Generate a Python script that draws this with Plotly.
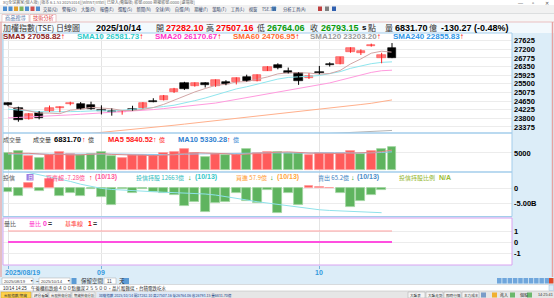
import plotly.graph_objects as go

W, H = 554, 298

# ---------------- data ----------------
dates = ["08/19", "08/20", "08/21", "08/22", "08/25", "08/26", "08/27", "08/28", "08/29",
         "09/01", "09/02", "09/03", "09/04", "09/05", "09/08", "09/09", "09/10", "09/11", "09/12",
         "09/15", "09/16", "09/17", "09/18", "09/19", "09/22", "09/23", "09/24", "09/25", "09/26",
         "09/30", "10/01", "10/02", "10/03", "10/07", "10/08", "10/09", "10/13", "10/14"]
opens = [24540, 24324, 23767, 24078, 24160, 24290, 24490, 24490, 24460, 24180, 24150, 24100, 24275,
         24295, 24660, 24700, 25080, 25555, 25410, 25525, 25390, 25575, 25575, 25835, 25655, 26146,
         26440, 26130, 26020, 25770, 26100, 26490, 26475, 27080, 27033, 27377, 26790, 27282.10]
highs = [24590, 24373, 24062, 24160, 24430, 24390, 24620, 24600, 24620, 24440, 24290, 24170, 24420,
         24600, 24790, 24950, 25300, 25600, 25570, 25580, 25720, 25680, 25820, 25950, 25965, 26370,
         26510, 26300, 26070, 26020, 26380, 26560, 26830, 27300, 27200, 27480, 27030, 27507.16]
lows = [24400, 23634, 23740, 23750, 24110, 24100, 24440, 24240, 24220, 23990, 23930, 23980, 24175,
        24280, 24590, 24680, 25050, 25200, 25360, 25320, 25350, 25430, 25470, 25610, 25620, 26130,
        26215, 26010, 25450, 25740, 25970, 26350, 26460, 27030, 26920, 27330, 26510, 26764.06]
closes = [24440, 23718, 24013, 23802, 24324, 24340, 24570, 24260, 24250, 24150, 24115, 24160, 24210,
          24570, 24600, 24900, 25230, 25245, 25525, 25440, 25673, 25505, 25800, 25625, 25950, 26310,
          26265, 26050, 25655, 25885, 26020, 26425, 26806, 27250, 27130, 27427, 26923.42, 26793.15]

sma5 = [24380, 24280, 24160, 24060, 24059, 24030, 24201, 24250, 24342, 24307, 24271, 24189, 24179,
        24241, 24331, 24488, 24702, 24909, 25100, 25268, 25423, 25478, 25589, 25609, 25711, 25838,
        25990, 26040, 26046, 26033, 25975, 26007, 26158, 26477, 26726, 27008, 27107, 27058.82]
sma10 = [24250, 24200, 24170, 24130, 24120, 24110, 24130, 24140, 24160, 24183, 24151, 24195, 24215,
         24291, 24319, 24380, 24446, 24544, 24671, 24800, 24955, 25090, 25249, 25354, 25489, 25630,
         25734, 25814, 25827, 25872, 25907, 25999, 26099, 26262, 26380, 26491, 26557, 26581.73]
sma20 = [23820, 23840, 23860, 23880, 23910, 23940, 23970, 24000, 24030, 24060, 24090, 24120, 24150,
         24190, 24230, 24280, 24330, 24380, 24430, 24491, 24553, 24642, 24732, 24823, 24904, 25005,
         25090, 25179, 25249, 25336, 25431, 25544, 25674, 25808, 25934, 26061, 26145, 26170.67]
sma60 = [22800, 22830, 22860, 22890, 22920, 22955, 22990, 23030, 23070, 23110, 23155, 23200, 23250,
         23300, 23350, 23405, 23460, 23515, 23570, 23625, 23680, 23735, 23790, 23845, 23900, 23955,
         24010, 24065, 24120, 24180, 24240, 24300, 24360, 24420, 24480, 24540, 24620, 24706.95]
sma120 = [22290, 22315, 22340, 22365, 22390, 22415, 22440, 22465, 22490, 22515, 22540, 22565, 22590,
          22615, 22640, 22665, 22690, 22715, 22740, 22765, 22790, 22815, 22840, 22865, 22890, 22915,
          22940, 22965, 22990, 23015, 23040, 23065, 23090, 23115, 23140, 23165, 23185, 23203.20]

volumes = [4896, 5571, 4193, 3606, 4398, 5190, 4603, 4398, 4603, 5190, 4105, 3606, 4398, 4398, 4398,
           4896, 5190, 6069, 4896, 3900, 4603, 4398, 4603, 6069, 4896, 5366, 5190, 5072, 4896, 4398,
           4896, 4896, 4896, 5659, 4603, 5659, 6069, 6831.70]
vol_ma5 = [4900, 5000, 4900, 4700, 4533, 4592, 4398, 4439, 4638, 4797, 4580, 4380, 4380, 4339, 4181,
           4339, 4656, 4990, 5090, 4990, 4932, 4773, 4480, 4715, 4914, 5066, 5225, 5319, 5084, 4984,
           4890, 4832, 4796, 4949, 4990, 5143, 5377, 5840.52]
vol_ma10 = [4700, 4750, 4760, 4720, 4650, 4680, 4640, 4590, 4620, 4630, 4740, 4690, 4620, 4550, 4490,
            4460, 4490, 4660, 4690, 4600, 4640, 4690, 4790, 4930, 4950, 5050, 5010, 4870, 4940, 4950,
            5040, 5080, 5060, 5020, 4980, 5020, 5140, 5330.28]

# 投信買賣超 (億), data through 10/13
trust_net = [-11.3, -26, 19.3, -9, 32, -26, -14.7, -26, -2.3, -28.3, -57, -2.3, -14.7, -3.4, -11.3,
             -17, -22.7, -61, -45, -80, -50, -45, -15, -43, -49, -5, -85, -17, -57, 9, 5.5, 2.5,
             -17, -65, -43, -23, -7.28]
trust_hold = [13300, 13270, 13240, 13210, 13180, 13150, 13110, 13070, 13035, 13010, 12995, 12985,
              12975, 12968, 12962, 12955, 12950, 12945, 12940, 12930, 12915, 12895, 12870, 12845,
              12820, 12800, 12775, 12755, 12735, 12720, 12705, 12695, 12688, 12680, 12673, 12668, 12663]

vol_ratio = [0, 0, 0, 0, 0, 0, 0, 0, 0, 0, 0, 0, 0, 0, 0, 0, 0, 0, 0, 0, 0, 0, 0, 0, 0, 0, 0, 0, 0, 0,
             0, 0, 0, 0, 0, 0, 0, 0]
base_line = [1, 1, 1, 1, 1, 1, 1, 1, 1, 1, 1, 1, 1, 1, 1, 1, 1, 1, 1, 1, 1, 1, 1, 1, 1, 1, 1, 1, 1, 1,
             1, 1, 1, 1, 1, 1, 1, 1]

price_ticks = [23375, 23800, 24225, 24650, 25075, 25500, 25925, 26350, 26775, 27200, 27625]
price_tick_text = ["23375", "23800", "24225", "24650", "25075", "25500", "25925", "26350", "26775",
                   "27200", "27625"]
vol_ticks = [5000]
vol_tick_text = ["5000"]
trust_ticks = [0, -50]
trust_tick_text = ["0", "-5.00B"]
ratio_ticks = [1, 0, -1]
ratio_tick_text = ["1", "0", "-1"]
month_ticks = [0, 9, 30]
month_labels = ["2025/08/19", "09", "10"]

# ---------------- helpers ----------------
NUM = "Liberation Sans"
CJK = "Noto Sans CJK TC"
GREEN = "#0a9a0a"


def fx(x):
    return x / W


def fy(y):
    return 1 - y / H


anns = []
shapes = []


def T(x, y, text, color="#333333", size=7, bold=False, family=NUM, xanchor="left", xref="paper"):
    anns.append(dict(x=fx(x) if xref == "paper" else x, y=fy(y), xref=xref, yref="paper", text=text,
                     showarrow=False, xanchor=xanchor, yanchor="middle", borderpad=0,
                     font=dict(family=family, size=size, color=color,
                               weight="bold" if bold else "normal")))


def R(x0, y0, x1, y1, fill=None, line=None, lw=1, layer="below"):
    shapes.append(dict(type="rect", xref="paper", yref="paper", x0=fx(x0), x1=fx(x1),
                       y0=fy(y1), y1=fy(y0), fillcolor=fill or "rgba(0,0,0,0)",
                       line=dict(color=line or "rgba(0,0,0,0)", width=lw if line else 0),
                       layer=layer))


def L(x0, y0, x1, y1, color, lw=1, layer="above"):
    shapes.append(dict(type="line", xref="paper", yref="paper", x0=fx(x0), x1=fx(x1),
                       y0=fy(y0), y1=fy(y1), line=dict(color=color, width=lw), layer=layer))


xs = list(range(len(dates)))
fig = go.Figure()

# ---------------- candles ----------------
min_body = 55
up_x, up_b, up_h, dn_x, dn_b, dn_h = [], [], [], [], [], []
up_wx, up_wy, dn_wx, dn_wy = [], [], [], []
for i in xs:
    o, h, l, c = opens[i], highs[i], lows[i], closes[i]
    bot = min(o, c)
    ht = max(abs(c - o), min_body)
    if c > o:
        up_x.append(i); up_b.append(bot); up_h.append(ht)
        up_wx += [i, i, None]; up_wy += [l, h, None]
    else:
        dn_x.append(i); dn_b.append(bot); dn_h.append(ht)
        dn_wx += [i, i, None]; dn_wy += [l, h, None]

for vals, col in [(sma120, "#b4b4b4"), (sma60, "#ffb08c"), (sma20, "#ff9ade"),
                  (sma10, "#8fe6ee"), (sma5, "#d2a6a6")]:
    fig.add_trace(go.Scatter(x=xs, y=vals, mode="lines", line=dict(color=col, width=1),
                             xaxis="x", yaxis="y"))

fig.add_trace(go.Scatter(x=up_wx, y=up_wy, mode="lines", line=dict(color="#ff2020", width=1),
                         xaxis="x", yaxis="y"))
fig.add_trace(go.Scatter(x=dn_wx, y=dn_wy, mode="lines", line=dict(color="#000000", width=1),
                         xaxis="x", yaxis="y"))
fig.add_trace(go.Bar(x=up_x, y=up_h, base=up_b, width=0.8, xaxis="x", yaxis="y",
                     marker=dict(color="#ff7b7b", line=dict(color="#ff4a4a", width=0.6))))
fig.add_trace(go.Bar(x=dn_x, y=dn_h, base=dn_b, width=0.8, xaxis="x", yaxis="y",
                     marker=dict(color="#000000", line=dict(color="#000000", width=0.6))))

# ---------------- volume ----------------
vol_cols = []
for i in xs:
    up = closes[i] > (closes[i - 1] if i > 0 else opens[i])
    vol_cols.append("#ff5b5b" if up else "#5fb45f")
vol_line = ["#ff9b9b" if c == "#ff5b5b" else "#9fd49f" for c in vol_cols]
fig.add_trace(go.Bar(x=xs, y=volumes, width=0.86, xaxis="x", yaxis="y2",
                     marker=dict(color=vol_cols, line=dict(color=vol_line, width=0.8))))
fig.add_trace(go.Scatter(x=xs, y=vol_ma10, mode="lines", line=dict(color="#8cc8ee", width=1),
                         xaxis="x", yaxis="y2"))
fig.add_trace(go.Scatter(x=xs, y=vol_ma5, mode="lines", line=dict(color="#e08a8a", width=1),
                         xaxis="x", yaxis="y2"))

# ---------------- 投信 ----------------
tx = xs[:len(trust_net)]
t_cols = ["#ff5b5b" if v > 0 else "#5fb45f" for v in trust_net]
t_line = ["#ff9b9b" if v > 0 else "#9fd49f" for v in trust_net]
fig.add_trace(go.Bar(x=tx, y=trust_net, width=0.86, xaxis="x", yaxis="y3",
                     marker=dict(color=t_cols, line=dict(color=t_line, width=0.8))))
fig.add_trace(go.Scatter(x=xs[:len(trust_hold)], y=trust_hold, mode="lines",
                         line=dict(color="#8fe2ea", width=1), xaxis="x", yaxis="y4"))

# ---------------- 量比 ----------------
fig.add_trace(go.Scatter(x=xs, y=base_line, mode="lines", line=dict(color="#ff9f9f", width=1.2),
                         xaxis="x", yaxis="y5"))
fig.add_trace(go.Scatter(x=xs, y=vol_ratio, mode="lines", line=dict(color="#ff4fe0", width=2.2),
                         xaxis="x", yaxis="y5"))

# ---------------- background / chrome ----------------
R(0, 0, 554, 5, "#ffffff")
R(0, 5, 554, 13.5, "#f1f1f1")
R(0, 13.5, 554, 22, "#f6f6f6")
R(0, 22, 554, 33, "#f3f9fd")
R(0, 277, 554, 284.5, "#dcedf8")
R(0, 284.5, 554, 291, "#ffffff")
R(0, 291, 554, 298, "#e6e6e6")
L(0, 13.5, 554, 13.5, "#d0d0d0", 0.6, "below")
L(0, 22, 554, 22, "#e7b3b3", 0.8, "below")
L(0, 284.5, 554, 284.5, "#c8c8c8", 0.6, "below")
L(0, 291, 554, 291, "#c0c0c0", 0.6, "below")

# title bar
T(2, 2.3, "XQ全球贏家(個人版) [版本 6.1.53 20251014][WinNT/Intel] 已登入(電腦版) 帳號:0000 期權帳號:0000 [遠端版]", "#666666", 4, family=CJK)
T(520, 2.5, "—", "#555555", 5, xanchor="center")
T(533, 2.5, "▫", "#555555", 6, xanchor="center")
T(547, 2.5, "✕", "#555555", 5, xanchor="center")
# toolbar
icon_cols = ["#4f8fd0", "#4f8fd0", "#e0a030", "#7fb55f", "#4f8fd0", "#d05050", "#4f8fd0"]
for k, c in enumerate(icon_cols):
    R(3 + k * 5.5, 6.5, 7 + k * 5.5, 11, c, layer="above")
T(42, 9, "交易(Q)　警報(O)　大盤(D)　報價(E)　選股(S)　新聞(N)　全球(W)　自選(M)　期權(F)　策略(T)　工具(L)　視窗　TSE.TW",
  "#334466", 4.3, family=CJK)
T(282, 9, "分析工具(A)", "#334466", 4.3, family=CJK)
R(272, 6.5, 276, 11, "#4f8fd0", layer="above")
R(318, 6.5, 322, 11, "#c04040", layer="above")
R(325, 6.5, 329, 11, "#7f7f7f", layer="above")
R(332, 6.5, 336, 11, "#3060b0", layer="above")
# tabs
R(2, 14.5, 29, 22, "#ffffff", "#e0b0b0", 0.6)
R(30, 14.5, 56, 22, "#ffffff", "#e0a0a0", 0.6)
T(4, 18.3, "商品搜尋", "#5577aa", 5.2, family=CJK)
T(32, 18.3, "技術分析", "#e04040", 5.2, family=CJK)

# frame
L(1, 22, 1, 277, "#eaa0a0", 1.2)
L(552.5, 22, 552.5, 277, "#eaa0a0", 1.5)

# header row
hy = 27.8
T(2, hy, "加權指數(TSE)", "#333333", 8, family=CJK)
T(55, hy, "日線圖", "#333333", 8, family=CJK)
T(95, hy, "2025/10/14", "#000000", 9, True)
T(155, hy, "開", "#333333", 8, family=CJK)
T(165, hy, "27282.10", "#ff0000", 9, True)
T(205, hy, "高", "#333333", 8, family=CJK)
T(215, hy, "27507.16", "#ff0000", 9, True)
T(256, hy, "低", "#333333", 8, family=CJK)
T(266, hy, "26764.06", GREEN, 9, True)
T(309, hy, "收", "#333333", 8, family=CJK)
T(320, hy, "26793.15", GREEN, 9, True)
T(361, hy, "s", "#000000", 8, True)
T(367, hy, "點", "#333333", 8, family=CJK)
T(384, hy, "量", "#333333", 8, family=CJK)
T(394, hy, "6831.70", "#000000", 9, True)
T(428, hy, "億", "#333333", 8, family=CJK)
T(440, hy, "-130.27 (-0.48%)", "#000000", 9, True)

# SMA row
sy = 36.6
for x0, label, col in [(2, "SMA5 27058.82", "#8e1b1b"), (76, "SMA10 26581.73", "#2fcccc"),
                       (154, "SMA20 26170.67", "#ff2fc8"), (232, "SMA60 24706.95", "#ff6a30"),
                       (309, "SMA120 23203.20", "#9a9a9a"), (392, "SMA240 22855.83", "#2f96e8")]:
    T(x0, sy, label + '<span style="color:#ff0000">↑</span>', col, 8, True)

# volume header
vy = 139.5
T(2, vy, "成交量", "#555555", 6, family=CJK)
T(32, vy, "成交量", "#333333", 6, family=CJK)
T(53, vy, "6831.70", "#000000", 7.5, True)
T(81, vy, "↑", "#ff0000", 7, True)
T(87, vy, "億", "#333333", 6, family=CJK)
T(107, vy, "MA5 5840.52", "#ff2020", 7.5, True)
T(152, vy, "↑", "#ff0000", 7, True)
T(158, vy, "億", "#ff2020", 6, family=CJK)
T(177, vy, "MA10 5330.28", "#2f7fd0", 7.5, True)
T(226, vy, "↑", "#ff0000", 7, True)
T(232, vy, "億", "#2f7fd0", 6, family=CJK)

# 投信 header
ty = 177.2
T(2, ty, "投信", "#555555", 6, family=CJK)
R(26.5, 174, 33.5, 180.5, "#a07ce0", layer="above")
T(30, ty, "日", "#ffffff", 5, family=CJK, xanchor="center")
T(45, ty, "買賣超 -7.28億", "#ff4a8a", 6, family=CJK)
T(88, ty, "↑", "#ff0000", 7, True)
T(94, ty, "(10/13)", "#ff5a9a", 7, True)
T(135, ty, "投信持股 12663億", "#2fbcbc", 6, family=CJK)
T(187, ty, "↓", "#119911", 7, True)
T(194, ty, "(10/13)", "#35c8c8", 7, True)
T(235, ty, "買進 57.9億", "#ff9a30", 6, family=CJK)
T(269, ty, "↓", "#119911", 7, True)
T(276, ty, "(10/13)", "#ffa640", 7, True)
T(317, ty, "賣出 65.2億", "#3a80c0", 6, family=CJK)
T(350, ty, "↓", "#119911", 7, True)
T(356, ty, "(10/13)", "#4a8cc8", 7, True)
T(398, ty, "投信持股比例", "#92b52a", 6, family=CJK)
T(438, ty, "N/A", "#9abb33", 7, True)

# 量比 header
qy = 223
T(3, qy, "量比", "#555555", 6, family=CJK)
T(28, qy, "量比", "#ff33cc", 6, family=CJK)
T(42, qy, "0", "#ff33cc", 7, True)
T(47, qy, "=", "#333333", 7, True)
T(64, qy, "基準線", "#ff3333", 6, family=CJK)
T(87, qy, "1", "#ff0000", 7, True)
T(92, qy, "=", "#333333", 7, True)

# panel borders
R(3, 33, 512, 133, None, "#a3cdeb", 1, "above")
R(3, 133, 512, 172, None, "#a3cdeb", 1, "above")
R(3, 172, 512, 216.5, None, "#a3cdeb", 1, "above")
R(3, 218, 512, 265, None, "#d9a2f0", 1, "above")

# date labels (month starts) placed on the category axis
T(4, 272.3, month_labels[0], "#3399dd", 7, True)
for v, lab in zip(month_ticks[1:], month_labels[1:]):
    T(v, 272.3, lab, "#3399dd", 7, True, xanchor="center", xref="x")

# control row
R(2, 278, 33, 284, "#ffffff", "#a8a8a8", 0.5, "above")
T(3, 281, "2025/08/19", "#444444", 4.2)
T(29, 281, "▼", "#444444", 3.5)
T(35, 281, "~", "#444444", 5)
R(39, 278, 70, 284, "#ffffff", "#a8a8a8", 0.5, "above")
T(40, 281, "2025/10/14", "#444444", 4.2)
T(66, 281, "▼", "#444444", 3.5)
R(71.5, 278, 76.5, 284, "#5b9bd5", layer="above")
T(80, 281, "保留空間", "#333333", 5.5, family=CJK)
R(104, 278, 116, 284, "#ffffff", "#a8a8a8", 0.5, "above")
T(106, 281, "11", "#444444", 4.5)
T(118, 281, "天", "#333333", 5.5, family=CJK)
R(122, 278, 129, 284, "#5b9bd5", layer="above")
for k in range(10):
    R(497 + k * 5.3, 278, 501.5 + k * 5.3, 283.5, "#6fa6dc", layer="above")
R(549, 278, 553.5, 283.5, "#e04a2a", layer="above")

# status row
T(2, 288, "10/14 14:25", "#333333", 4.5)
T(30, 288, "午後櫃指跌逾４００點擴深２５５００，晶片股難逞，台積電跌吃水", "#333333", 4.5, family=CJK)
R(549, 285, 553.5, 290.5, "#dcedf8", "#9fbfdf", 0.5, "above")

# task bar
R(1, 292, 31, 298, "#ffd24a", "#c9a030", 0.5, "above")
T(2.5, 295, "台股指數/期貨", "#333333", 3.6, family=CJK)
R(32, 292, 48, 298, "#f4f4f4", "#b0b0b0", 0.5, "above")
T(33, 295, "評分看盤", "#333333", 3.6, family=CJK)
R(49, 292, 71, 298, "#f4f4f4", "#b0b0b0", 0.5, "above")
T(50, 295, "台股技術分析", "#333333", 3.4, family=CJK)
R(72, 292, 95, 298, "#f4f4f4", "#b0b0b0", 0.5, "above")
T(73, 295, "期貨技術分析", "#333333", 3.4, family=CJK)
R(97, 292, 206, 298, "#dde9f7", None, layer="above")
T(98, 295, "加權指數 2025/10/14 開27282.10 高27507.16 低26764.06 收26793.15 量6831.70億",
  "#224488", 3.6, family=CJK)
for k, lab in enumerate(["大盤表", "大盤走勢", "即時行情", "主力成本"]):
    R(408 + k * 18, 292, 425 + k * 18, 298, "#f4f4f4", "#a8a8a8", 0.5, "above")
    T(409 + k * 18, 295, lab, "#333333", 3.6, family=CJK)
R(481, 292.5, 486, 297.5, "#7a9cc8", layer="above")
R(492, 292.5, 497, 297.5, "#f0b030", layer="above")
T(499, 295, "進入", "#333333", 4, family=CJK)
R(510, 292.5, 515, 297.5, "#6cb86c", layer="above")
T(519, 295, "個股", "#333333", 4, family=CJK)
R(527, 292.5, 532, 297.5, "#6cb86c", layer="above")
T(537, 295, "14:25:41", "#333333", 3.8)

# ---------------- axes ----------------
px_step = (392 - 8) / 37.0
x_range = [(3 - 8) / px_step, (512 - 8) / px_step]

tick_font = dict(family=NUM, size=7.5, color="#000000", weight="bold")


def yax(domain_px, rng, tickvals, ticktext, grid=True):
    return dict(domain=[fy(domain_px[1]), fy(domain_px[0])], range=rng, side="right", anchor="x",
                tickvals=tickvals, ticktext=ticktext, showgrid=grid, gridcolor="#ececec",
                gridwidth=1, zeroline=False, showline=False, ticks="", tickfont=tick_font,
                fixedrange=True, ticklabelstandoff=1)


# price axis: 27200 at y=49.3 px, 49.25 points per px
p_per_px = 49.25
price_rng = [27200 - (133 - 49.3) * p_per_px, 27200 + (49.3 - 33) * p_per_px]
# volume: baseline at y=170 px, 293.2 per px
v_per_px = 293.2
vol_rng = [-(172 - 170) * v_per_px, (170 - 133) * v_per_px]
# 投信: zero at y=188.3 px, 0.294 px per 億
t_px = 0.294
trust_rng = [-(216.5 - 188.3) / t_px, (188.3 - 172) / t_px]
hold_rng = [12663 - (216.5 - 212.7) / 0.07, 12663 + (212.7 - 172) / 0.07]
# 量比: 0 at y=242 px, 11 px per unit
ratio_rng = [-(265 - 242) / 11.0, (242 - 218) / 11.0]

fig.update_layout(
    width=W, height=H, autosize=False,
    margin=dict(l=0, r=0, t=0, b=0, pad=0),
    paper_bgcolor="#dcedf8", plot_bgcolor="#ffffff",
    showlegend=False, hovermode=False, barmode="overlay", bargap=0,
    xaxis=dict(domain=[fx(3), fx(512)], range=x_range, anchor="y5", tickvals=month_ticks,
               showticklabels=False, ticks="outside", ticklen=3, tickcolor="#7ab3dd",
               showgrid=True, gridcolor="#e4e4e4", zeroline=False, showline=False,
               fixedrange=True, rangeslider=dict(visible=False)),
    yaxis=yax((33, 133), price_rng, price_ticks, price_tick_text),
    yaxis2=yax((133, 172), vol_rng, vol_ticks, vol_tick_text),
    yaxis3=yax((172, 216.5), trust_rng, trust_ticks, trust_tick_text),
    yaxis4=dict(domain=[fy(216.5), fy(172)], range=hold_rng, overlaying="y3", anchor="x",
                visible=False, fixedrange=True),
    yaxis5=yax((218, 265), ratio_rng, ratio_ticks, ratio_tick_text),
    annotations=anns, shapes=shapes,
)

fig.write_html("out.html")
